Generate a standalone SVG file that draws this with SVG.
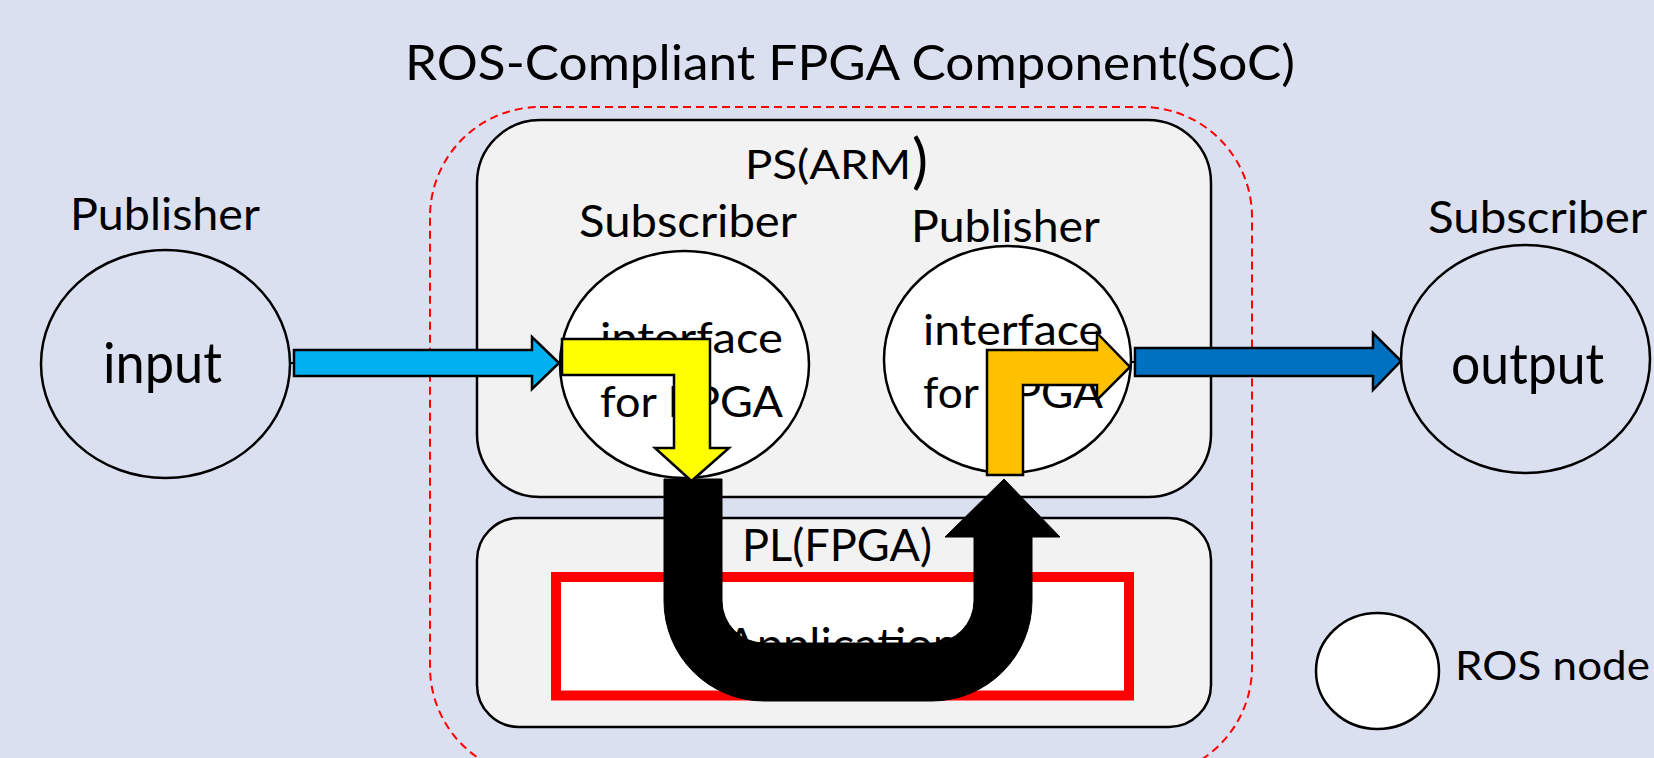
<svg xmlns="http://www.w3.org/2000/svg" width="1654" height="758" viewBox="0 0 1654 758">
  <style>
    .t { font-family: Lato, "Open Sans", "Liberation Sans", sans-serif; fill: #000; }
    .node { stroke: #000; stroke-width: 2.5; }
    .box { fill: #F2F2F2; stroke: #000; stroke-width: 2.5; }
    .arrow { stroke: #000; stroke-width: 2.5; stroke-linejoin: miter; }
    .link { stroke: #000; stroke-width: 2; fill: none; }
  </style>

  <!-- page background -->
  <rect x="0" y="0" width="1654" height="758" fill="#DAE0F0"/>

  <!-- heading -->
  <text class="t" x="405" y="80" font-size="49" textLength="890" lengthAdjust="spacingAndGlyphs">ROS-Compliant FPGA Component(SoC)</text>

  <!-- SoC boundary -->
  <g id="soc">
    <rect x="430" y="107" width="822" height="670" rx="110" ry="110" fill="none" stroke="#FF0000" stroke-width="2" stroke-dasharray="8 5"/>
  </g>

  <!-- processing system -->
  <g id="ps">
    <rect class="box" x="477" y="120" width="734" height="377" rx="63" ry="63"/>
    <text class="t" x="745" y="179" font-size="40" textLength="166" lengthAdjust="spacingAndGlyphs">PS(ARM</text>
    <text class="t" x="912" y="182" font-size="60">)</text>
    <text class="t" x="579" y="237" font-size="44" textLength="218" lengthAdjust="spacingAndGlyphs">Subscriber</text>
    <text class="t" x="911" y="242" font-size="44" textLength="189" lengthAdjust="spacingAndGlyphs">Publisher</text>
  </g>

  <!-- programmable logic -->
  <g id="pl">
    <rect class="box" x="477" y="518" width="734" height="209" rx="42" ry="42"/>
    <text class="t" x="742" y="561" font-size="45" textLength="190" lengthAdjust="spacingAndGlyphs">PL(FPGA)</text>
  </g>

  <g id="application">
    <rect x="556" y="577" width="573" height="118.5" fill="#FFFFFF" stroke="#FF0000" stroke-width="10"/>
    <text class="t" x="842" y="661" font-size="47" text-anchor="middle">Application</text>
  </g>

  <!-- external publisher -->
  <g id="input">
    <text class="t" x="70" y="230" font-size="44" textLength="190" lengthAdjust="spacingAndGlyphs">Publisher</text>
    <ellipse class="node" cx="165.5" cy="364" rx="124.5" ry="114" fill="none"/>
    <text class="t" x="103" y="383" font-size="56" textLength="119" lengthAdjust="spacingAndGlyphs">input</text>
  </g>

  <!-- subscriber side interface -->
  <g id="sub-interface">
    <ellipse class="node" cx="684.5" cy="364.5" rx="124.5" ry="113.5" fill="#FFFFFF"/>
    <text class="t" x="600" y="353" font-size="42" textLength="183" lengthAdjust="spacingAndGlyphs">interface</text>
    <text class="t" x="600" y="417" font-size="42" textLength="183" lengthAdjust="spacingAndGlyphs">for FPGA</text>
  </g>

  <!-- publisher side interface -->
  <g id="pub-interface">
    <ellipse class="node" cx="1007.5" cy="359.5" rx="123.5" ry="113.5" fill="#FFFFFF"/>
    <text class="t" x="923" y="345" font-size="42" textLength="180" lengthAdjust="spacingAndGlyphs">interface</text>
    <text class="t" x="923" y="408" font-size="42" textLength="180" lengthAdjust="spacingAndGlyphs">for FPGA</text>
  </g>

  <!-- external subscriber -->
  <g id="output">
    <text class="t" x="1428" y="233" font-size="44" textLength="219" lengthAdjust="spacingAndGlyphs">Subscriber</text>
    <ellipse class="node" cx="1525.5" cy="359" rx="124.5" ry="114" fill="none"/>
    <text class="t" x="1451" y="384" font-size="56" textLength="153" lengthAdjust="spacingAndGlyphs">output</text>
  </g>

  <!-- legend -->
  <g id="legend">
    <ellipse class="node" cx="1377.5" cy="671" rx="61.5" ry="58" fill="#FFFFFF"/>
    <text class="t" x="1455" y="680" font-size="40" textLength="195" lengthAdjust="spacingAndGlyphs">ROS node</text>
  </g>

  <!-- data flow -->
  <g id="connectors">
    <!-- input topic into the subscriber interface -->
    <line class="link" x1="290" y1="363" x2="294" y2="363"/>
    <polygon class="arrow" fill="#00B0F0" points="294,350 532,350 532,337 559,363 532,389 532,376 294,376"/>

    <!-- round trip through the FPGA logic -->
    <path fill="#000000" stroke="#000" stroke-width="1" d="M664,479 L722,479 L722,601 A42,42 0 0 0 764,643 L932,643 A42,42 0 0 0 974,601 L974,537 L945,537 L1004,479 L1060,537 L1032,537 L1032,601 A100,100 0 0 1 932,701 L764,701 A100,100 0 0 1 664,601 Z"/>

    <!-- subscriber interface hands data down to the FPGA -->
    <polygon class="arrow" fill="#FFFF00" points="562,339 710,339 710,448 729,448 691.5,481 655,448 674,448 674,375 562,375"/>

    <!-- FPGA result back up to the publisher interface -->
    <polygon class="arrow" fill="#FFC000" points="987,475 987,350 1097,350 1097,333 1130,367 1097,400 1097,385 1023,385 1023,475"/>

    <!-- published output topic -->
    <line class="link" x1="1130" y1="362" x2="1135" y2="362"/>
    <polygon class="arrow" fill="#0070C0" points="1135,348 1373,348 1373,333 1401,361 1373,390 1373,376 1135,376"/>
  </g>
</svg>
